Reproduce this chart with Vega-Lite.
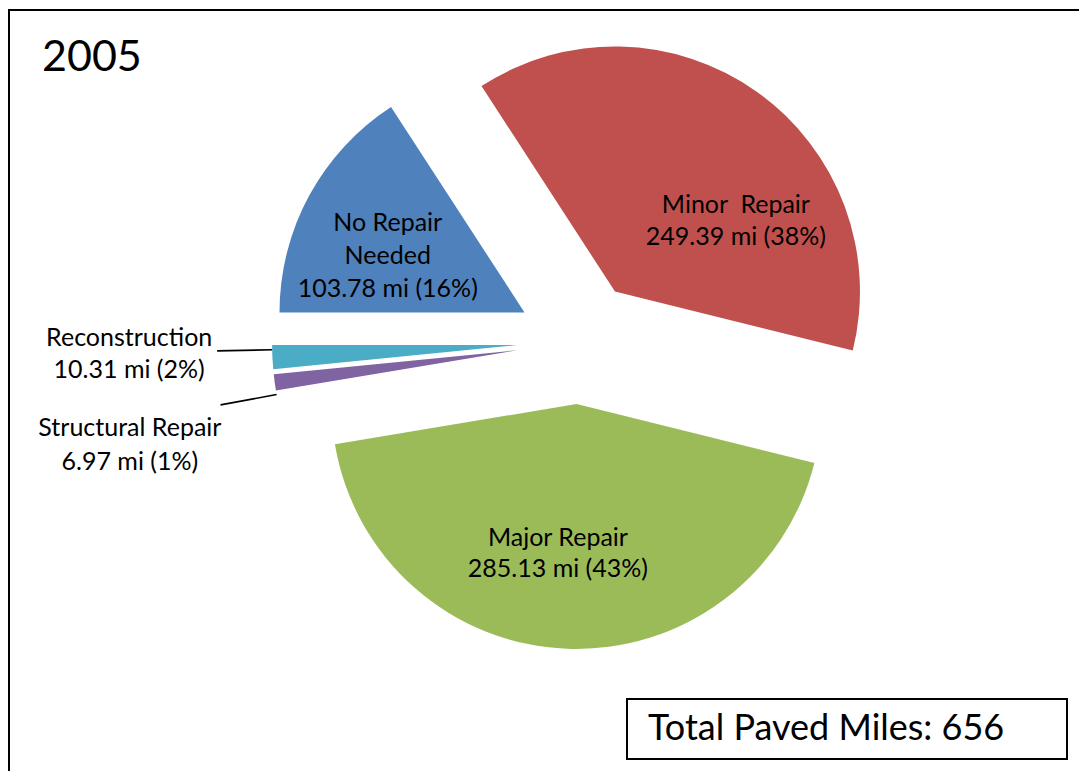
{
  "$schema": "https://vega.github.io/schema/vega-lite/v6.json",
  "width": 1070,
  "height": 761,
  "autosize": {"type": "none"},
  "padding": {"left": 9, "top": 10, "right": 0, "bottom": 0},
  "background": "white",
  "config": {
    "style": {"view": {"stroke": "black", "strokeWidth": 2, "strokeDash": [1070, 1831, 770]}},
    "font": "Lato",
    "legend": {
      "orient": "bottom-right",
      "offset": 12,
      "strokeColor": "black",
      "strokeWidth": 2,
      "fillColor": "white",
      "padding": 12,
      "titleOrient": "right",
      "titleFont": "Lato",
      "titleFontSize": 20,
      "titleOpacity": 0,
      "titlePadding": 35,
      "labelFont": "Lato",
      "labelFontSize": 36,
      "labelColor": "black",
      "labelLimit": 0,
      "labelOffset": -27,
      "symbolSize": 0,
      "symbolOpacity": 0,
      "symbolStrokeWidth": 0
    }
  },
  "title": {
    "text": "2005",
    "anchor": "start",
    "frame": "group",
    "offset": -70,
    "dx": 33,
    "font": "Lato",
    "fontSize": 43,
    "fontWeight": "normal",
    "color": "black"
  },
  "data": {
    "values": [
      {"category": "No Repair Needed", "label": "No Repair\nNeeded", "miles": 103.78},
      {"category": "Minor Repair", "label": "Minor\u00a0 Repair", "miles": 249.39},
      {"category": "Major Repair", "label": "Major Repair", "miles": 285.13},
      {"category": "Structural Repair", "label": "Structural Repair", "miles": 6.97},
      {"category": "Reconstruction", "label": "Reconstruction", "miles": 10.31}
    ]
  },
  "transform": [
    {"joinaggregate": [{"op": "sum", "field": "miles", "as": "total"}]},
    {"window": [{"op": "sum", "field": "miles", "as": "t1"}], "frame": [null, 0]},
    {"calculate": "datum.t1 - datum.miles", "as": "t0"},
    {"calculate": "datum.t1 - datum.miles / 2", "as": "tmid"},
    {"calculate": "-PI / 2 + 2 * PI * datum.tmid / datum.total", "as": "midAngle"},
    {"calculate": "datum.label + '\\n' + format(datum.miles, '.2f') + ' mi (' + format(datum.miles / datum.total, '.0%') + ')'", "as": "labelText"},
    {"calculate": "'Total Paved Miles: ' + format(datum.total, '.0f')", "as": "totalText"}
  ],
  "layer": [
    {
      "mark": {
        "type": "arc",
        "radius": 245,
        "xOffset": {"expr": "35 + 62 * sin(datum.midAngle)"},
        "yOffset": {"expr": "-48.5 - 62 * cos(datum.midAngle)"}
      },
      "encoding": {
        "theta": {
          "field": "t1",
          "type": "quantitative",
          "scale": {"range": [-1.5707963, 4.7123890], "zero": true, "nice": false}
        },
        "theta2": {"field": "t0"},
        "color": {
          "field": "category",
          "type": "nominal",
          "scale": {
            "domain": ["No Repair Needed", "Minor Repair", "Major Repair", "Structural Repair", "Reconstruction"],
            "range": ["#4F81BD", "#C0504D", "#9BBB59", "#8064A2", "#4BACC6"]
          },
          "legend": null
        }
      }
    },
    {
      "transform": [{"filter": "datum.category == 'Reconstruction'"}],
      "mark": {
        "type": "arc", "filled": false, "color": "black", "strokeWidth": 1.6,
        "radius": 300, "radius2": 245, "thetaOffset": 0.030, "theta2Offset": 0.030,
        "xOffset": {"expr": "35 + 62 * sin(datum.midAngle)"},
        "yOffset": {"expr": "-48.5 - 62 * cos(datum.midAngle)"}
      },
      "encoding": {
        "theta": {"field": "tmid", "type": "quantitative"},
        "theta2": {"field": "tmid"}
      }
    },
    {
      "transform": [{"filter": "datum.category == 'Structural Repair'"}],
      "mark": {
        "type": "arc", "filled": false, "color": "black", "strokeWidth": 1.6,
        "radius": 302, "radius2": 245, "thetaOffset": -0.050, "theta2Offset": -0.050,
        "xOffset": {"expr": "35 + 62 * sin(datum.midAngle)"},
        "yOffset": {"expr": "-48.5 - 62 * cos(datum.midAngle)"}
      },
      "encoding": {
        "theta": {"field": "tmid", "type": "quantitative"},
        "theta2": {"field": "tmid"}
      }
    },
    {
      "transform": [{"filter": "datum.category == 'No Repair Needed'"}],
      "mark": {
        "type": "text", "radius": 148, "thetaOffset": -0.105, "dy": -33,
        "xOffset": {"expr": "35 + 62 * sin(datum.midAngle)"},
        "yOffset": {"expr": "-48.5 - 62 * cos(datum.midAngle)"},
        "fontSize": 25, "lineBreak": "\n", "lineHeight": 33,
        "align": "center", "baseline": "middle", "color": "black"
      },
      "encoding": {
        "theta": {"field": "tmid", "type": "quantitative"},
        "text": {"field": "labelText"}
      }
    },
    {
      "transform": [{"filter": "datum.category == 'Minor Repair'"}],
      "mark": {
        "type": "text", "radius": 140, "thetaOffset": 0.424, "dy": -16,
        "xOffset": {"expr": "35 + 62 * sin(datum.midAngle)"},
        "yOffset": {"expr": "-48.5 - 62 * cos(datum.midAngle)"},
        "fontSize": 25, "lineBreak": "\n", "lineHeight": 32,
        "align": "center", "baseline": "middle", "color": "black"
      },
      "encoding": {
        "theta": {"field": "tmid", "type": "quantitative"},
        "text": {"field": "labelText"}
      }
    },
    {
      "transform": [{"filter": "datum.category == 'Major Repair'"}],
      "mark": {
        "type": "text", "radius": 150, "thetaOffset": 0.086, "dy": -15,
        "xOffset": {"expr": "35 + 62 * sin(datum.midAngle)"},
        "yOffset": {"expr": "-48.5 - 62 * cos(datum.midAngle)"},
        "fontSize": 25, "lineBreak": "\n", "lineHeight": 31,
        "align": "center", "baseline": "middle", "color": "black"
      },
      "encoding": {
        "theta": {"field": "tmid", "type": "quantitative"},
        "text": {"field": "labelText"}
      }
    },
    {
      "transform": [{"filter": "datum.category == 'Reconstruction'"}],
      "mark": {
        "type": "text", "radius": 388, "thetaOffset": 0.026, "dy": -16,
        "xOffset": {"expr": "35 + 62 * sin(datum.midAngle)"},
        "yOffset": {"expr": "-48.5 - 62 * cos(datum.midAngle)"},
        "fontSize": 25, "lineBreak": "\n", "lineHeight": 32,
        "align": "center", "baseline": "middle", "color": "black"
      },
      "encoding": {
        "theta": {"field": "tmid", "type": "quantitative"},
        "text": {"field": "labelText"}
      }
    },
    {
      "transform": [{"filter": "datum.category == 'Structural Repair'"}],
      "mark": {
        "type": "text", "radius": 399, "thetaOffset": -0.107, "dy": -17,
        "xOffset": {"expr": "35 + 62 * sin(datum.midAngle)"},
        "yOffset": {"expr": "-48.5 - 62 * cos(datum.midAngle)"},
        "fontSize": 25, "lineBreak": "\n", "lineHeight": 34,
        "align": "center", "baseline": "middle", "color": "black"
      },
      "encoding": {
        "theta": {"field": "tmid", "type": "quantitative"},
        "text": {"field": "labelText"}
      }
    },
    {
      "transform": [{"filter": "datum.category == 'Major Repair'"}],
      "mark": {"type": "point", "opacity": 0},
      "encoding": {
        "shape": {"field": "totalText", "type": "nominal", "legend": {"title": "\u2014"}}
      }
    }
  ]
}
